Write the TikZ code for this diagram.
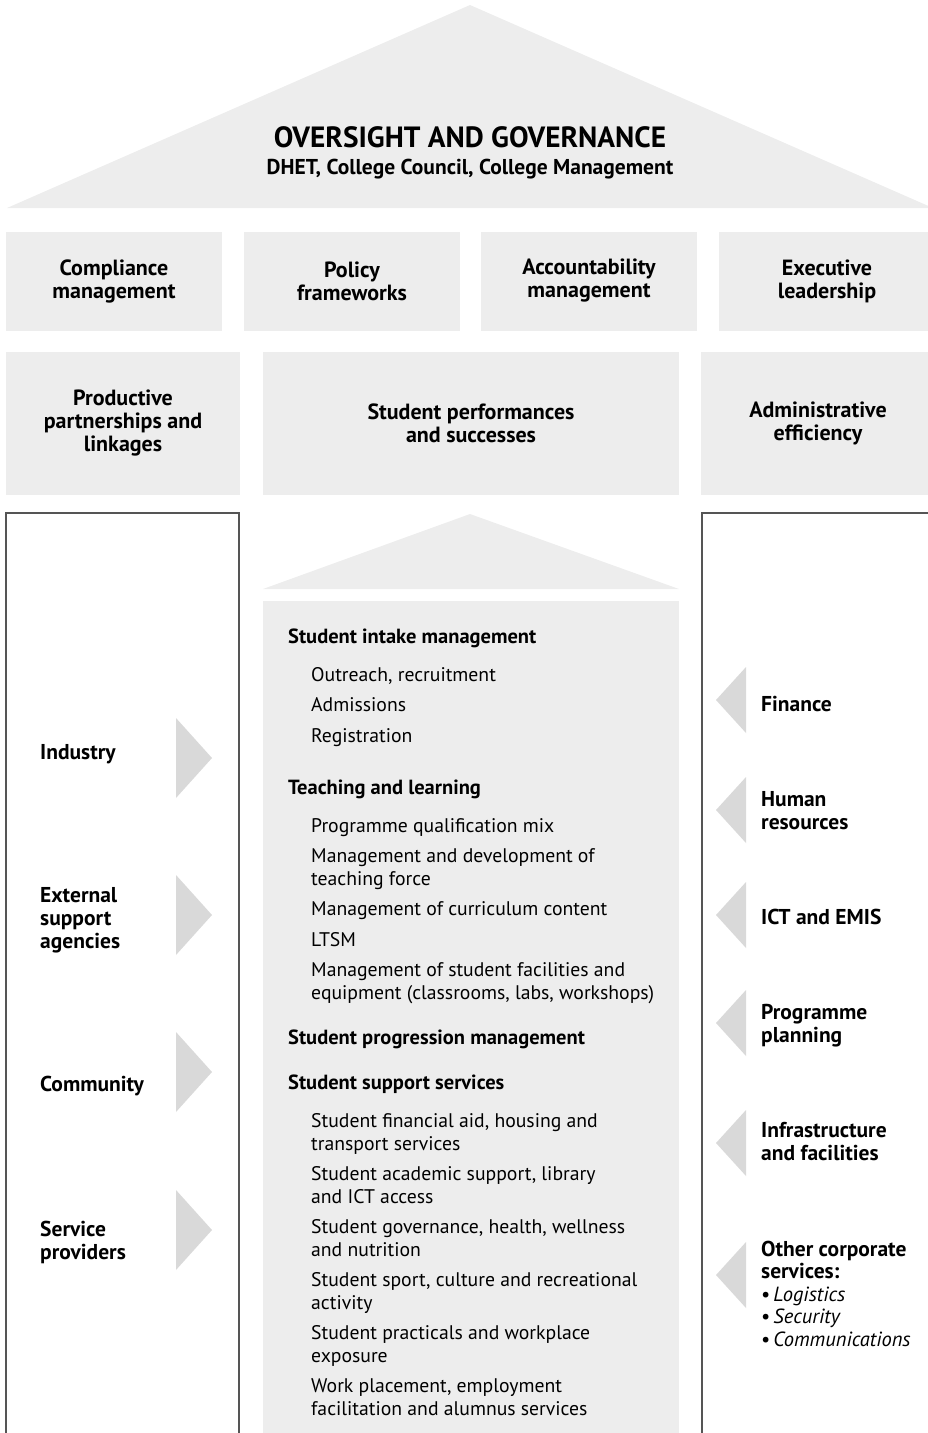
\documentclass[tikz,border=0pt]{standalone}
\usepackage{fontspec}
\setmainfont{PT Sans}
\usepackage{xcolor}
\usepackage{tikz}
\usetikzlibrary{positioning, calc}

\definecolor{boxgrey}{HTML}{EDEDED}
\definecolor{arrowgrey}{HTML}{D9D9D9}
\definecolor{linegrey}{HTML}{555555}

\begin{document}
\begin{tikzpicture}[x=1pt, y=-1pt,
	pillar/.style={fill=boxgrey, inner sep=0pt, align=center, font=\bfseries\fontsize{22}{23}\selectfont},
	sidelabel/.style={anchor=base west, align=left, inner sep=0pt, font=\bfseries\fontsize{21.5}{23}\selectfont},
	heading/.style={anchor=base west, inner sep=0pt, font=\bfseries\fontsize{20.5}{23}\selectfont},
	item/.style={anchor=base west, align=left, inner sep=0pt, font=\fontsize{19.7}{23}\selectfont}]
	
	\useasboundingbox (0,0) rectangle (928,1433);
	\clip (0,0) rectangle (928,1433);
	
	%//roof
	\fill[boxgrey] (7,208) -- (470,5) -- (933,208) -- cycle;
	\node (gov) [anchor=base, inner sep=0pt, font=\bfseries\fontsize{29.3}{32}\selectfont] at (470,147) {OVERSIGHT AND GOVERNANCE};
	\node (govsub) [anchor=base, inner sep=0pt, font=\bfseries\fontsize{21.5}{23}\selectfont] at (470,174) {DHET, College Council, College Management};
	
	%//first row of boxes
	\node (comp) [pillar, minimum width=216pt, minimum height=99pt] at (114,281) {Compliance\\management};
	\node (pol) [pillar, minimum width=216pt, minimum height=99pt] at (352,281) {Policy\\frameworks};
	\node (acc) [pillar, minimum width=216pt, minimum height=99pt] at (589,281) {Accountability\\management};
	\node (exe) [pillar, minimum width=216pt, minimum height=99pt] at (827,281) {Executive\\leadership};
	
	%//second row
	\node (prod) [pillar, minimum width=234pt, minimum height=143pt] at (123,423.5) {Productive\\partnerships and\\linkages};
	\node (perf) [pillar, minimum width=416pt, minimum height=143pt] at (471,423.5) {Student performances\\and successes};
	\node (adm) [pillar, minimum width=234pt, minimum height=143pt] at (818,423.5) {Administrative\\efficiency};
	
	%//side boxes, open at the bottom
	\draw[linegrey, line width=1.3pt] (6,1445) |- (239,513) -- (239,1445);
	\draw[linegrey, line width=1.3pt] (702,1445) |- (940,513);
	
	%//middle column
	\fill[boxgrey] (263,589) -- (470,514) -- (679,589) -- cycle;
	\fill[boxgrey] (263,601) rectangle (679,1445);
	
	\foreach \y/\val [count=\i] in {643/Student intake management, 794/Teaching and learning, 1044/Student progression management, 1089/Student support services}
	\node (head\i) [heading] at (288,\y) {\val};
	
	%//y is the baseline of the last line
	\foreach \y/\val [count=\i] in {681/{Outreach, recruitment}, 711/Admissions, 742/Registration,
		832/Programme qualification mix, 885/Management and development of\\teaching force,
		915/Management of curriculum content, 946/LTSM,
		999/{Management of student facilities and\\equipment (classrooms, labs, workshops)},
		1150/{Student financial aid, housing and\\transport services},
		1203/{Student academic support, library\\and ICT access},
		1256/{Student governance, health, wellness\\and nutrition},
		1309/{Student sport, culture and recreational\\activity},
		1362/Student practicals and workplace\\exposure,
		1415/{Work placement, employment\\facilitation and alumnus services}}
	\node (item\i) [item] at (311,\y) {\val};
	
	%//left side: arrows in
	\foreach \c in {758, 915, 1072, 1230}
	\fill[arrowgrey] (176,\c-40) -- (212,\c) -- (176,\c+40) -- cycle;
	
	\foreach \y/\val [count=\i] in {759/Industry, 948/External\\support\\agencies, 1091/Community, 1259/Service\\providers}
	\node (ext\i) [sidelabel] at (40,\y) {\val};
	
	%//right side: arrows in
	\foreach \c in {700, 810, 915, 1023, 1143, 1275}
	\fill[arrowgrey] (746,\c-33) -- (716,\c) -- (746,\c+33) -- cycle;
	
	\foreach \y/\val [count=\i] in {711/Finance, 829/Human\\resources, 924/ICT and EMIS, 1042/Programme\\planning, 1160/Infrastructure\\and facilities}
	\node (corp\i) [sidelabel] at (761,\y) {\val};
	
	\node (corp6) [sidelabel, font=\bfseries\fontsize{21.5}{22.5}\selectfont] at (761,1346) {Other corporate\\services:\\
		{\mdseries\fontsize{20.5}{22.5}\selectfont\textbullet\hspace{3pt}\itshape Logistics}\\
		{\mdseries\fontsize{20.5}{22.5}\selectfont\textbullet\hspace{3pt}\itshape Security}\\
		{\mdseries\fontsize{20.5}{22.5}\selectfont\textbullet\hspace{3pt}\itshape Communications}};
	
\end{tikzpicture}
\end{document}
